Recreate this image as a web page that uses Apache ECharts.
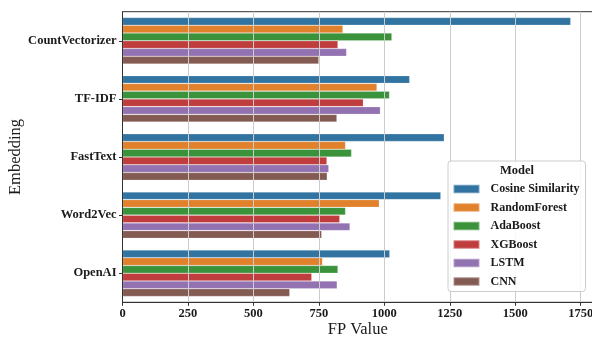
<!DOCTYPE html>
<html><head><meta charset="utf-8">
<script src="https://cdn.jsdelivr.net/npm/echarts@6/dist/echarts.min.js"></script>
<style>html,body{margin:0;padding:0;background:#fff}#c{width:592px;height:341px}</style>
</head><body><div id="c"></div>
<script>
const categories = ['CountVectorizer', 'TF-IDF', 'FastText', 'Word2Vec', 'OpenAI'];
const models = ['Cosine Similarity', 'RandomForest', 'AdaBoost', 'XGBoost', 'LSTM', 'CNN'];
const cosineSimilarity = [1712, 1097, 1229, 1216, 1021];
const randomForest = [842, 972, 852, 981, 764];
const adaBoost = [1029, 1020, 875, 852, 823];
const xgBoost = [823, 920, 781, 830, 723];
const lstm = [856, 985, 788, 869, 820];
const cnn = [750, 819, 782, 761, 639];
const xTicks = [0, 250, 500, 750, 1000, 1250, 1500, 1750];
const colors = ['#3274a1', '#e1812c', '#3a923a', '#c03d3e', '#9372b2', '#845b53'];
const seriesValues = [cosineSimilarity, randomForest, adaBoost, xgBoost, lstm, cnn];

const font = 'Liberation Serif';
const chart = echarts.init(document.getElementById('c'), null, {renderer: 'canvas'});
chart.setOption({
  animation: false,
  color: colors,
  grid: {left: 122.5, right: -1, top: 11.7, bottom: 38.7, show: true, borderColor: '#333', borderWidth: 1,
    containLabel: false, outerBoundsMode: 'none'},
  xAxis: {
    type: 'value', min: 0, max: 1797, interval: 250, z: 3,
    name: 'FP Value', nameLocation: 'middle', nameGap: 19, nameMoveOverlap: false,
    nameTextStyle: {fontFamily: font, fontSize: 16.5, color: '#1a1a1a'},
    axisLine: {show: true, lineStyle: {color: '#333', width: 1}},
    axisTick: {show: true, length: 3.5, lineStyle: {color: '#333'}},
    axisLabel: {margin: 5, fontFamily: font, fontWeight: 'bold', fontSize: 12.5, color: '#1a1a1a',
      formatter: v => xTicks.includes(v) ? String(v) : ''},
    splitLine: {show: true, lineStyle: {color: '#cccccc', width: 1}}
  },
  yAxis: {
    type: 'category', data: categories, inverse: true, z: 3,
    name: 'Embedding', nameLocation: 'middle', nameGap: 98, nameRotate: 90, nameMoveOverlap: false,
    nameTextStyle: {fontFamily: font, fontSize: 16.5, color: '#1a1a1a'},
    axisLine: {show: true, lineStyle: {color: '#333', width: 1}},
    axisTick: {show: true, alignWithLabel: true, length: 3.5, lineStyle: {color: '#333'}},
    axisLabel: {margin: 6, fontFamily: font, fontWeight: 'bold', fontSize: 12.5, color: '#1a1a1a'},
    splitLine: {show: false}
  },
  legend: {
    orient: 'vertical', left: 448, top: 161, data: models, icon: 'rect',
    itemWidth: 26, itemHeight: 8.5, itemGap: 6.5,
    padding: [22, 6, 4, 4.5],
    backgroundColor: 'rgba(255,255,255,0.85)', borderColor: '#cccccc', borderWidth: 1, borderRadius: 3,
    textStyle: {fontFamily: font, fontWeight: 'bold', fontSize: 12, color: '#1a1a1a', padding: [0, 0, 0, 6]},
    z: 10
  },
  graphic: [{type: 'text', left: 500, top: 164, z: 100,
    style: {text: 'Model', font: 'bold 12.5px "Liberation Serif"', fill: '#1a1a1a'}}],
  series: models.map((m, i) => ({
    name: m, type: 'bar', data: seriesValues[i],
    barCategoryGap: '20%', barGap: '0%',
    itemStyle: {color: colors[i], borderColor: 'rgba(255,255,255,0.35)', borderWidth: 0.6}
  }))
});
</script></body></html>
